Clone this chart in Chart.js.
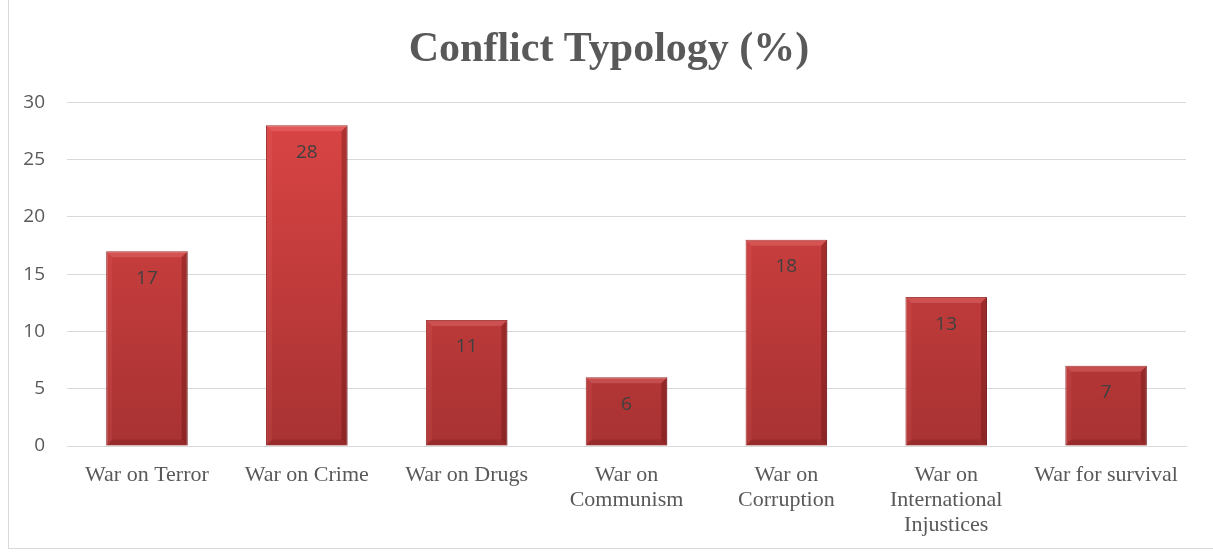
<!DOCTYPE html>
<html>
<head>
<meta charset="utf-8">
<script src="https://cdn.jsdelivr.net/npm/chart.js@4"></script>
<style>
  html, body { margin: 0; padding: 0; background: #fff; }
  #wrap { position: relative; width: 1213px; height: 556px; overflow: hidden; }
  #frame { position: absolute; left: 8px; top: -2px; width: 1215px; height: 551px; border: 1px solid #d9d9d9; box-sizing: border-box; }
  canvas { position: absolute; left: 0; top: 0; }
</style>
</head>
<body>
<div id="wrap">
  <div id="frame"></div>
  <canvas id="chart" width="1213" height="556"></canvas>
</div>
<script>
const categories = [
  "War on Terror",
  "War on Crime",
  "War on Drugs",
  ["War on", "Communism"],
  ["War on", "Corruption"],
  ["War on", "International", "Injustices"],
  "War for survival"
];
const shares = [17, 28, 11, 6, 18, 13, 7];
const yTicks = [0, 5, 10, 15, 20, 25, 30];

// Relleno degradado de las barras
function barFill(ctx) {
  const area = ctx.chart.chartArea;
  if (!area) return "#c83a3a";
  const g = ctx.chart.ctx.createLinearGradient(0, area.top, 0, area.bottom);
  g.addColorStop(0, "#dc4545");
  g.addColorStop(1, "#a83232");
  return g;
}

// Bisel y etiquetas de valor
const barDecor = {
  id: "barDecor",
  afterDatasetsDraw(chart) {
    const c = chart.ctx;
    const meta = chart.getDatasetMeta(0);
    meta.data.forEach((bar, i) => {
      const l = bar.x - bar.width / 2, r = bar.x + bar.width / 2;
      const t = bar.y, b = bar.base;
      const e = 6;
      c.save();
      c.fillStyle = "rgba(255,150,150,0.25)";
      c.beginPath();
      c.moveTo(l, t); c.lineTo(r, t); c.lineTo(r - e, t + e); c.lineTo(l + e, t + e); c.closePath();
      c.fill();
      c.fillStyle = "rgba(80,10,10,0.3)";
      c.beginPath();
      c.moveTo(r, t); c.lineTo(r, b); c.lineTo(r - e, b - e); c.lineTo(r - e, t + e); c.closePath();
      c.fill();
      c.fillStyle = "rgba(90,15,15,0.2)";
      c.beginPath();
      c.moveTo(l, b); c.lineTo(r, b); c.lineTo(r - e, b - e); c.lineTo(l + e, b - e); c.closePath();
      c.fill();
      c.fillStyle = "rgba(255,120,120,0.12)";
      c.beginPath();
      c.moveTo(l, t); c.lineTo(l + e, t + e); c.lineTo(l + e, b - e); c.lineTo(l, b); c.closePath();
      c.fill();
      c.fillStyle = "#404040";
      c.font = "19px 'Open Sans', sans-serif";
      c.textAlign = "center";
      c.textBaseline = "middle";
      c.fillText(String(shares[i]), bar.x, t + 27);
      c.restore();
    });
  }
};

new Chart(document.getElementById("chart"), {
  type: "bar",
  data: {
    labels: categories,
    datasets: [{
      data: shares,
      backgroundColor: barFill,
      borderColor: "#8e2a2a",
      borderWidth: 1,
      categoryPercentage: 1,
      barPercentage: 0.51
    }]
  },
  options: {
    responsive: false,
    animation: false,
    layout: { padding: { left: 5, right: 0, top: 0, bottom: 0 } },
    plugins: {
      legend: { display: false },
      tooltip: { enabled: false },
      title: {
        display: true,
        text: "Conflict Typology (%)",
        color: "#595959",
        font: { family: "'Liberation Serif', serif", size: 42, weight: "bold" },
        padding: { top: 25, bottom: 27 }
      }
    },
    scales: {
      x: {
        grid: { display: false },
        border: { color: "#d9d9d9" },
        ticks: {
          color: "#595959",
          font: { family: "'Liberation Serif', serif", size: 22, lineHeight: 1.13 },
          padding: 9,
          maxRotation: 0,
          autoSkip: false
        },
        afterFit(s) { s.height = 110; }
      },
      y: {
        min: 0,
        max: 30,
        afterBuildTicks(s) { s.ticks = yTicks.map(v => ({ value: v })); },
        grid: { color: "#d9d9d9", drawTicks: false },
        border: { display: false },
        ticks: {
          color: "#595959",
          font: { family: "'Open Sans', sans-serif", size: 19 },
          padding: 22
        },
        afterFit(s) { s.width = 62; }
      },
      // margen derecho vacío
      yRight: {
        position: "right",
        min: 0,
        max: 30,
        grid: { display: false },
        border: { display: false },
        ticks: { display: false },
        afterFit(s) { s.width = 27; }
      }
    }
  },
  plugins: [barDecor]
});
</script>
</body>
</html>
